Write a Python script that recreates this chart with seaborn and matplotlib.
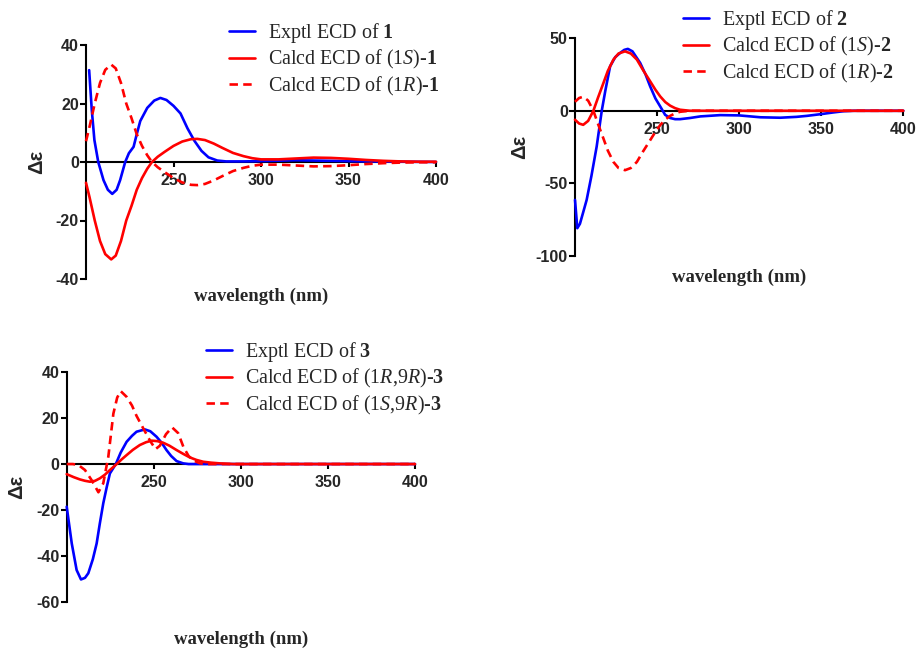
import matplotlib
matplotlib.use("Agg")
import matplotlib.pyplot as plt
import seaborn as sns
import pandas as pd

# ---------------- Panel 1 data ----------------
wl_exp1 = [201.8, 203.3, 204.8, 207, 210, 212.5, 215, 217.5, 219.5, 222.4, 224.5, 227.2, 229, 231, 235, 239,
           242.5, 246, 250, 254, 258, 262, 266, 270, 275, 280, 290, 300, 320, 340, 360, 380, 400]
de_exp1 = [31.4, 17.8, 7.5, 0, -6.2, -9.5, -10.9, -9.5, -6.2, 0, 3, 5.2, 9.5, 14, 18.5, 21,
           21.9, 21.2, 19.2, 16.6, 11.5, 7.2, 3.8, 1.6, 0.5, 0.2, 0.2, 0.3, 0.6, 0.4, 0.2, 0.1, 0]
wl_calc1S = [200, 202, 205, 208, 211, 214.4, 217, 220, 223, 226, 229, 232, 235, 237.7, 241, 245, 250, 255, 260,
             263.6, 268, 273, 278, 284, 290, 295, 300, 310, 320, 330, 340, 350, 360, 370, 380, 390, 400]
de_calc1S = [-7.1, -12, -20, -27, -31.5, -33.3, -32, -27, -20, -15, -9.5, -5.5, -2.3, 0, 1.8, 3.5, 5.5, 7, 7.8,
             7.9, 7.5, 6.3, 4.8, 3.1, 2, 1.3, 0.9, 0.9, 1.2, 1.5, 1.4, 1.1, 0.7, 0.4, 0.2, 0.1, 0.1]
wl_calc1R = [200, 202, 205, 208, 211, 214.4, 217, 220, 223, 226, 229, 232, 235, 237.7, 241, 245, 250, 255, 260,
             263.6, 268, 273, 278, 284, 290, 295, 300, 310, 320, 330, 340, 350, 360, 370, 380, 390, 400]
de_calc1R = [7.1, 12, 20, 27, 31.5, 33.3, 32, 27, 20, 15, 9.5, 5.5, 2.3, 0, -1.8, -3.5, -5.5, -7, -7.8,
             -7.9, -7.5, -6.3, -4.8, -3.1, -2, -1.3, -0.9, -0.9, -1.2, -1.5, -1.4, -1.1, -0.7, -0.4, -0.2, -0.1, -0.1]

# ---------------- Panel 2 data ----------------
wl_exp2 = [200, 201.4, 203, 205, 207.1, 210, 213.2, 216.3, 218.5, 221.4, 224.5, 227.5, 230, 232.2, 235, 239.7,
           243, 245.8, 249, 251.9, 254.9, 258, 261, 264, 270, 276.3, 288.5, 300, 313, 325, 335, 341.4, 350,
           357, 363.7, 370, 380, 400]
de_exp2 = [-61.5, -81, -78, -70, -61.5, -45, -24.7, 0, 14, 30.7, 37, 39.9, 42, 42.7, 41, 33,
           25, 16.8, 8.5, 3, -2.8, -5, -5.8, -5.8, -5, -3.9, -3, -3.2, -4.5, -4.8, -4.2, -3.5, -2.3,
           -1.2, -0.3, 0, 0, 0]
wl_calc2S = [200, 202.5, 205, 208, 211.2, 214, 217.3, 220, 223.4, 226.5, 230.5, 234, 237.7, 241.5, 245.8, 249,
             251.9, 255, 258, 261, 264, 270, 280, 300, 350, 400]
de_calc2S = [-6.2, -8.8, -9.7, -7, 0, 9, 19.1, 27.5, 35.3, 39.5, 41, 39.5, 35.3, 28, 20.3, 14.5,
             9.9, 6, 3.5, 1.8, 0.7, 0, 0, 0, 0, 0]
wl_calc2R = [200, 202.5, 205, 208, 211.2, 214, 217.3, 220, 223.4, 226.5, 230.5, 234, 237.7, 241.5, 245.8, 249,
             251.9, 255, 258, 261, 264, 270, 280, 300, 350, 400]
de_calc2R = [6.2, 8.8, 9.7, 7, 0, -9, -19.1, -27.5, -35.3, -39.5, -41, -39.5, -35.3, -28, -20.3, -14.5,
             -9.9, -6, -3.5, -1.8, -0.7, 0, 0, 0, 0, 0]

# ---------------- Panel 3 data ----------------
wl_exp3 = [200, 202.9, 205.7, 208.2, 210.5, 212.4, 215, 217.2, 219, 221, 223, 224.8, 228.2, 231, 234.4, 237.5,
           240.1, 244.9, 248, 251.6, 254.5, 257.3, 260, 263.1, 266.9, 270, 280, 300, 350, 400]
de_exp3 = [-18.6, -34.6, -46.2, -50.3, -49.6, -47.6, -41.5, -34.6, -26, -17.1, -10, -4.1, 0, 5, 9.7, 12.3,
           14.1, 15.1, 14.3, 11.9, 9.3, 6.1, 3.5, 1.3, 0.3, 0, 0, 0, 0, 0]
wl_calc3RR = [200, 204, 207.6, 210.5, 213.4, 216.3, 219.1, 222, 224.8, 228.7, 231.5, 234.4, 238, 242, 245.5,
              248.7, 252, 255.4, 259, 263.1, 267, 270.7, 274.5, 278.4, 283, 287.9, 295.6, 300, 350, 400]
de_calc3RR = [-4.4, -5.7, -6.7, -7.3, -7.7, -7.3, -6.2, -4.6, -2.6, 0, 2, 3.9, 6.2, 8.3, 9.5,
              10.2, 10, 9.3, 8, 6.1, 4.4, 2.9, 1.8, 1, 0.6, 0.3, 0, 0, 0, 0]
wl_calc3SR = [200, 203.5, 206.7, 210.5, 214.3, 218.2, 221, 223.9, 226.8, 229, 231, 234.4, 237.5, 240.1, 244,
              248, 251, 253.5, 257, 260.5, 264, 267, 270, 273, 276.5, 280, 300, 350, 400]
de_calc3SR = [0, 0, -0.4, -2.6, -7, -12.3, -8.4, 3.2, 22, 29, 31.8, 29.3, 25.5, 21, 15.5,
              10, 6.5, 8, 13, 16, 13.5, 7.5, 3.5, 1.5, 0.3, 0, 0, 0, 0]

# ---------------- labels ----------------
labels1 = [r"Exptl ECD of $\mathbf{1}$", r"Calcd ECD of (1$\mathit{S}$)-$\mathbf{1}$",
           r"Calcd ECD of (1$\mathit{R}$)-$\mathbf{1}$"]
labels2 = [r"Exptl ECD of $\mathbf{2}$", r"Calcd ECD of (1$\mathit{S}$)-$\mathbf{2}$",
           r"Calcd ECD of (1$\mathit{R}$)-$\mathbf{2}$"]
labels3 = [r"Exptl ECD of $\mathbf{3}$", r"Calcd ECD of (1$\mathit{R}$,9$\mathit{R}$)-$\mathbf{3}$",
           r"Calcd ECD of (1$\mathit{S}$,9$\mathit{R}$)-$\mathbf{3}$"]
xticks = [250, 300, 350, 400]

sns.set_style("ticks")
plt.rcParams["font.family"] = ["Liberation Sans", "DejaVu Sans"]
plt.rcParams["axes.unicode_minus"] = False
plt.rcParams["mathtext.fontset"] = "custom"
plt.rcParams["mathtext.rm"] = "Liberation Serif"
plt.rcParams["mathtext.it"] = "Liberation Serif:italic"
plt.rcParams["mathtext.bf"] = "Liberation Serif:bold"

BLUE = "#0000ff"
RED = "#ff0000"
LW = 1.9
DASH = (0, (3.2, 2.0))

fig = plt.figure(figsize=(9.19, 6.48), dpi=100)
ax1 = fig.add_axes([86 / 919, 1 - 279 / 648, 350 / 919, 234 / 648])
ax2 = fig.add_axes([575 / 919, 1 - 255.7 / 648, 328.3 / 919, 217.4 / 648])
ax3 = fig.add_axes([66.7 / 919, 1 - 601.7 / 648, 348.3 / 919, 229.4 / 648])


def draw(ax, series, labels):
    styles = [(BLUE, "-"), (RED, "-"), (RED, DASH)]
    for (x, y), lab, (c, ls) in zip(series, labels, styles):
        df = pd.DataFrame({"wl": x, "de": y})
        sns.lineplot(data=df, x="wl", y="de", ax=ax, color=c, linewidth=LW, linestyle=ls,
                     label=lab, zorder=3, clip_on=False)


def style(ax, ylim, yticks, ylab_x, xlab_y, leg_anchor):
    ax.set_xlim(200, 400)
    ax.set_ylim(*ylim)
    ax.spines["top"].set_visible(False)
    ax.spines["right"].set_visible(False)
    ax.spines["bottom"].set_position(("data", 0))
    for s in ("left", "bottom"):
        ax.spines[s].set_linewidth(1.5)
        ax.spines[s].set_color("black")
    ax.set_xticks(xticks)
    ax.set_yticks(yticks)
    ax.tick_params(axis="x", direction="out", length=3.8, width=1.5, labelsize=11.5,
                   color="black", pad=4)
    ax.tick_params(axis="y", direction="out", length=4.2, width=1.5, labelsize=11.5,
                   color="black", pad=1)
    for t in ax.get_xticklabels() + ax.get_yticklabels():
        t.set_fontweight("bold")
    ax.set_xlabel("wavelength (nm)", fontfamily="Liberation Serif", fontweight="bold",
                  fontsize=13.5, va="center")
    ax.xaxis.set_label_coords(0.5, xlab_y)
    ax.set_ylabel("Δε", fontfamily="Liberation Sans", fontweight="bold", fontsize=14.5, va="center")
    ax.yaxis.set_label_coords(ylab_x, 0.5)
    ax.legend(loc="upper left", bbox_to_anchor=leg_anchor, bbox_transform=fig.transFigure,
              frameon=False, prop={"family": "Liberation Serif", "size": 14.4},
              handlelength=1.3, handletextpad=0.65, labelspacing=0.17, borderpad=0,
              borderaxespad=0)


draw(ax1, [(wl_exp1, de_exp1), (wl_calc1S, de_calc1S), (wl_calc1R, de_calc1R)], labels1)
style(ax1, (-40, 40), [-40, -20, 0, 20, 40], -0.14, -0.073, (229 / 919, 1 - 21 / 648))

draw(ax2, [(wl_exp2, de_exp2), (wl_calc2S, de_calc2S), (wl_calc2R, de_calc2R)], labels2)
style(ax2, (-100, 50), [-100, -50, 0, 50], -0.17, -0.098, (682.7 / 919, 1 - 8 / 648))

draw(ax3, [(wl_exp3, de_exp3), (wl_calc3RR, de_calc3RR), (wl_calc3SR, de_calc3SR)], labels3)
style(ax3, (-60, 40), [-60, -40, -20, 0, 20, 40], -0.143, -0.164, (205.7 / 919, 1 - 340 / 648))

fig.savefig("out.png", dpi=100)
